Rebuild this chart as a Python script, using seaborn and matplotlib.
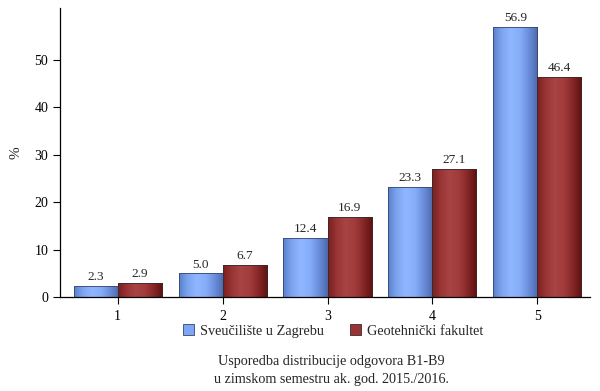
import numpy as np
import pandas as pd
import matplotlib
matplotlib.use("Agg")
import matplotlib.pyplot as plt
from matplotlib.colors import LinearSegmentedColormap
from matplotlib.patches import Patch
import seaborn as sns

# data
categories = ["1", "2", "3", "4", "5"]
series_names = ["Sveučilište u Zagrebu", "Geotehnički fakultet"]
sveuciliste = [2.3, 5.0, 12.4, 23.3, 56.9]
geotehnicki = [2.9, 6.7, 16.9, 27.1, 46.4]
y_ticks = [0, 10, 20, 30, 40, 50]
caption = "Usporedba distribucije odgovora B1-B9\nu zimskom semestru ak. god. 2015./2016."

df = pd.DataFrame({
    "ocjena": categories * 2,
    "postotak": sveuciliste + geotehnicki,
    "serija": [series_names[0]] * 5 + [series_names[1]] * 5,
})

sns.set_style("white")
plt.rcParams["font.family"] = ["Liberation Serif", "DejaVu Serif"]

blue_mid = "#7fa6f5"
red_mid = "#9a3434"
palette = {series_names[0]: blue_mid, series_names[1]: red_mid}

fig = plt.figure(figsize=(6, 3.91), dpi=100)
ax = fig.add_axes([0.1, 0.2404, 0.883, 0.7396])

sns.barplot(data=df, x="ocjena", y="postotak", hue="serija", palette=palette,
            width=0.84, legend=False, ax=ax, edgecolor="#2a3550", linewidth=0.6,
            saturation=1)

# cylinder-like shading on every bar
blue_cmap = LinearSegmentedColormap.from_list(
    "b", ["#5a7fcc", "#7ea6f0", "#8fb6ff", "#86adf8", "#6a8ddb", "#4d68a8"])
red_cmap = LinearSegmentedColormap.from_list(
    "r", ["#7a1e1e", "#9a3535", "#a94444", "#a23c3c", "#852626", "#5c1010"])
grad = np.linspace(0, 1, 256).reshape(1, -1)
for container, cmap in zip(ax.containers, [blue_cmap, red_cmap]):
    for bar in container:
        x0, y0 = bar.get_x(), bar.get_y()
        w, h = bar.get_width(), bar.get_height()
        im = ax.imshow(grad, extent=[x0, x0 + w, y0, y0 + h], aspect="auto",
                       cmap=cmap, zorder=bar.get_zorder() + 0.1)
        im.set_clip_path(bar)
        edge = plt.Rectangle((x0, y0), w, h, fill=False,
                             edgecolor="#3a2a2a" if cmap is red_cmap else "#34466e",
                             linewidth=0.6, zorder=bar.get_zorder() + 0.2)
        ax.add_patch(edge)
    ax.bar_label(container, fmt="%.1f", padding=2, fontsize=9.5)

ax.set_xlim(-0.55, 4.5)
ax.set_ylim(0, 61)
ax.set_yticks(y_ticks)
ax.set_xlabel("")
ax.set_ylabel("%", fontsize=11)
ax.yaxis.set_label_coords(-0.07, 0.5)

sns.despine(ax=ax)
for side in ["left", "bottom"]:
    ax.spines[side].set_color("black")
    ax.spines[side].set_linewidth(0.9)
ax.tick_params(axis="both", which="both", direction="out", length=5, width=0.8,
               labelsize=10, colors="black", left=True, bottom=True)
ax.tick_params(axis="x", pad=4)

handles = [Patch(facecolor=blue_mid, edgecolor="#34466e", linewidth=0.6),
           Patch(facecolor=red_mid, edgecolor="#3a2a2a", linewidth=0.6)]
fig.legend(handles, series_names, loc="center", bbox_to_anchor=(0.555, 1 - 331 / 391),
           ncol=2, frameon=False, fontsize=10.3, handlelength=0.8, handleheight=0.8,
           handletextpad=0.4, columnspacing=1.8)

fig.text(0.553, 1 - 371 / 391, caption, ha="center", va="center", fontsize=10.2,
         linespacing=1.5)

fig.savefig("out.png", dpi=100)
